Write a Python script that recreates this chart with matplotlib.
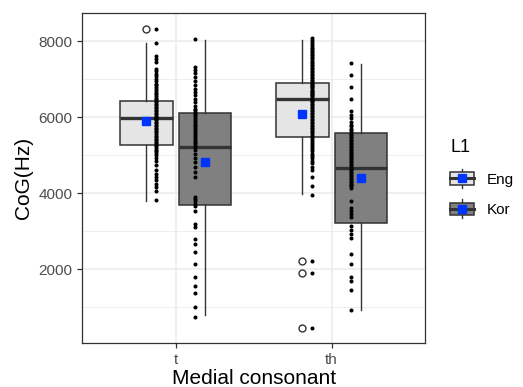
import matplotlib
matplotlib.use("Agg")
import matplotlib.pyplot as plt
import numpy as np
from matplotlib.legend_handler import HandlerBase
from matplotlib.patches import Rectangle
from matplotlib.lines import Line2D

plt.rcParams['font.family'] = ['Liberation Sans', 'DejaVu Sans']

consonants = ['t', 'th']
groups = ['Eng', 'Kor']
fills = {'Eng': '#e5e5e5', 'Kor': '#808080'}

# box statistics (t, th)
q1 = {'Eng': [5276, 5485], 'Kor': [3681, 3211]}
med = {'Eng': [5992, 6478], 'Kor': [5224, 4675]}
q3 = {'Eng': [6437, 6915], 'Kor': [6105, 5574]}
whislo = {'Eng': [3786, 3979], 'Kor': [779, 928]}
whishi = {'Eng': [7953, 8039], 'Kor': [8031, 7404]}
outliers = {'Eng': [[8335], [2217, 1890, 458]], 'Kor': [[], []]}
means = {'Eng': [5895, 6097], 'Kor': [4831, 4413]}

# individual observations
eng_t = [8330, 7960, 7610, 7540, 7470, 7280, 7210, 7150, 7090, 7020, 6950,
         6880, 6840, 6790, 6740, 6700, 6650, 6610, 6560, 6520, 6470, 6430,
         6400, 6360, 6320, 6280, 6240, 6200, 6160, 6120, 6080, 6040, 6010,
         5990, 5960, 5920, 5880, 5840, 5800, 5760, 5720, 5680, 5640, 5600,
         5560, 5520, 5480, 5440, 5400, 5360, 5320, 5280, 5240, 5200, 5150,
         5100, 5050, 5010, 4930, 4840, 4750, 4620, 4510, 4420, 4340, 4250,
         4160, 4070, 3810]
kor_t = [8060, 7330, 7250, 7160, 7050, 6950, 6860, 6750, 6660, 6580, 6490,
         6400, 6310, 6220, 6180, 6140, 6100, 6060, 6010, 5960, 5910, 5860,
         5810, 5760, 5710, 5660, 5610, 5560, 5510, 5460, 5410, 5360, 5310,
         5270, 5220, 5140, 5030, 4920, 4810, 4700, 4570, 4440, 3900, 3850,
         3790, 3720, 3650, 3530, 3180, 3110, 2780, 2650, 2450, 2130, 1780,
         1560, 1360, 1000, 750]
eng_th = [8100, 8040, 7980, 7920, 7870, 7830, 7790, 7750, 7710, 7670, 7630,
          7590, 7550, 7510, 7470, 7430, 7390, 7350, 7310, 7270, 7230, 7190,
          7150, 7110, 7070, 7030, 6990, 6950, 6910, 6880, 6850, 6820, 6790,
          6760, 6730, 6700, 6670, 6640, 6610, 6580, 6550, 6520, 6490, 6460,
          6430, 6400, 6360, 6320, 6280, 6240, 6200, 6160, 6120, 6080, 6040,
          6000, 5960, 5920, 5880, 5840, 5800, 5760, 5720, 5680, 5640, 5600,
          5560, 5520, 5480, 5430, 5380, 5330, 5280, 5220, 5160, 5100, 5040,
          4980, 4920, 4860, 4790, 4700, 4610, 4440, 4180, 3960, 2220, 1890, 460]
kor_th = [7430, 7120, 6810, 6470, 6160, 6050, 5990, 5880, 5800, 5760, 5700,
          5660, 5600, 5570, 5530, 5490, 5450, 5410, 5370, 5330, 5290, 5250,
          5210, 5170, 5130, 5090, 5050, 5010, 4970, 4930, 4890, 4850, 4810,
          4770, 4730, 4690, 4650, 4610, 4570, 4530, 4490, 4450, 4410, 4370,
          4330, 4290, 4250, 4210, 4180, 4140, 3790, 3620, 3540, 3450, 3360,
          3130, 3030, 2930, 2830, 2390, 2130, 1780, 1680, 1450, 910]
points = {'Eng': [eng_t, eng_th], 'Kor': [kor_t, kor_th]}

edge = '#333333'
blue = '#0035ff'
box_off = {'Eng': -0.1875, 'Kor': 0.1875}
pt_off = {'Eng': -0.125, 'Kor': 0.125}

fig = plt.figure(figsize=(5.23, 3.87), dpi=100)
ax = fig.add_axes([0.157, 0.114, 0.656, 0.852])

xs = np.arange(1, len(consonants) + 1)
for g in groups:
    stats = []
    for i in range(len(consonants)):
        stats.append(dict(q1=q1[g][i], med=med[g][i], q3=q3[g][i],
                          whislo=whislo[g][i], whishi=whishi[g][i],
                          fliers=outliers[g][i]))
    ax.bxp(stats, positions=xs + box_off[g], widths=0.3375, patch_artist=True,
           showcaps=False,
           boxprops=dict(facecolor=fills[g], edgecolor=edge, linewidth=1.1),
           medianprops=dict(color=edge, linewidth=2.4, solid_capstyle='butt'),
           whiskerprops=dict(color=edge, linewidth=1.0),
           flierprops=dict(marker='o', markerfacecolor='none',
                           markeredgecolor=edge, markersize=5, markeredgewidth=1.0),
           zorder=2)
    for i in range(len(consonants)):
        vals = points[g][i]
        ax.plot(np.full(len(vals), xs[i] + pt_off[g]), vals, 'o', color='black',
                markersize=1.9, zorder=3)
    ax.plot(xs + box_off[g], means[g], 's', color=blue, markersize=5.5, zorder=4)

ax.set_xlim(0.4, 2.6)
ax.set_ylim(55, 8745)
ax.set_xticks(xs)
ax.set_xticklabels(consonants)
ax.set_yticks([2000, 4000, 6000, 8000])
ax.set_yticks([1000, 3000, 5000, 7000], minor=True)
ax.grid(True, which='major', color='#ebebeb', linewidth=1.1)
ax.grid(True, which='minor', axis='y', color='#ebebeb', linewidth=0.6)
ax.set_axisbelow(True)
ax.tick_params(axis='both', which='major', length=3.5, width=0.9, color=edge,
               labelcolor='#4d4d4d', labelsize=11)
ax.tick_params(axis='y', which='minor', length=0)
for s in ax.spines.values():
    s.set_color(edge)
    s.set_linewidth(0.9)

ax.set_xlabel('Medial consonant', fontsize=15, labelpad=2)
ax.set_ylabel('CoG(Hz)', fontsize=15, labelpad=4)


class BoxKey(HandlerBase):
    def create_artists(self, legend, orig_handle, xdescent, ydescent,
                       width, height, fontsize, trans):
        x0, y0 = -xdescent, -ydescent
        cx, cy = x0 + width / 2, y0 + height / 2
        whisk = Line2D([cx, cx], [y0 - 0.25 * height, y0 + 1.25 * height],
                       color=edge, linewidth=1.0, transform=trans)
        rect = Rectangle((x0, y0), width, height,
                         facecolor=orig_handle.get_facecolor(), edgecolor=edge,
                         linewidth=1.1, transform=trans)
        mline = Line2D([x0, x0 + width], [cy, cy], color=edge, linewidth=2.2,
                       transform=trans)
        dot = Line2D([cx], [cy], marker='s', color=blue, markersize=5.5,
                     linestyle='none', transform=trans)
        return [whisk, rect, mline, dot]


handles = [Rectangle((0, 0), 1, 1, facecolor=fills[g]) for g in groups]
leg = fig.legend(handles, groups, title='L1', loc='center left',
                 bbox_to_anchor=(0.835, 0.54), frameon=False, fontsize=11,
                 title_fontsize=13, handler_map={Rectangle: BoxKey()},
                 handlelength=1.55, handleheight=0.9, labelspacing=1.05,
                 handletextpad=0.8)
leg._legend_box.align = 'left'

fig.savefig('out.png', dpi=100)
